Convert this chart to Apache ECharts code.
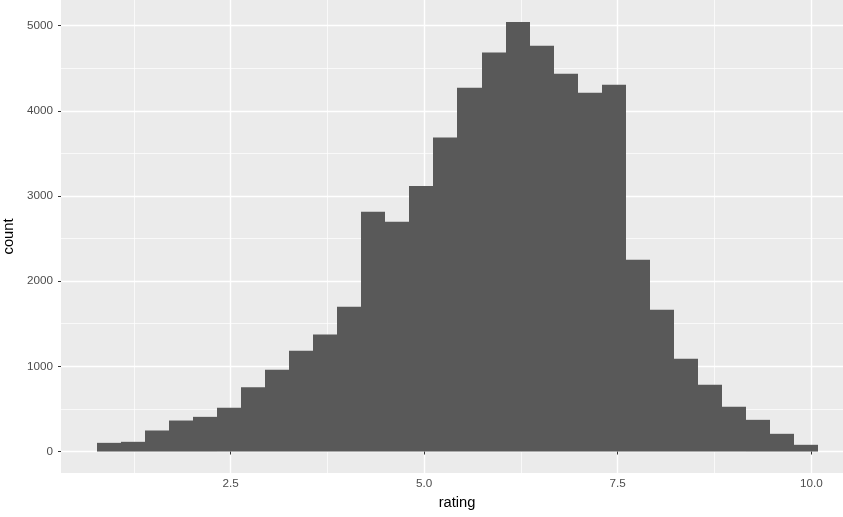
<!DOCTYPE html>
<html>
<head>
<meta charset="utf-8">
<script src="https://cdn.jsdelivr.net/npm/echarts@6/dist/echarts.min.js"></script>
<style>
html,body{margin:0;padding:0;background:#fff;}
#chart{width:843px;height:517px;}
</style>
</head>
<body>
<div id="chart"></div>
<script>
// Histogram of rating: 30 bins
const binStart = 0.7759;          // left edge of first bin
const binWidth = 9 / 29;          // ggplot bins = 30 over range 1..10
const counts = [102, 114, 247, 364, 407, 513, 755, 959, 1182, 1373,
                1698, 2814, 2698, 3116, 3685, 4269, 4683, 5043, 4762, 4433,
                4210, 4304, 2250, 1663, 1088, 783, 525, 372, 208, 79];
const xMajorTicks = [2.5, 5.0, 7.5, 10.0];
const xMinorTicks = [1.25, 3.75, 6.25, 8.75];
const yMajorTicks = [0, 1000, 2000, 3000, 4000, 5000];
const yMinorTicks = [500, 1500, 2500, 3500, 4500];
const xTitle = 'rating';
const yTitle = 'count';

const data = counts.map((c, i) => [binStart + i * binWidth, binStart + (i + 1) * binWidth, c]);

const xMin = 0.3104, xMax = 10.41;
const yMin = -252, yMax = 5300;
const font = 'Liberation Sans';

const chart = echarts.init(document.getElementById('chart'), null, {renderer: 'canvas'});
chart.setOption({
  animation: false,
  grid: {left: 61, right: 0, top: 0, bottom: 44, show: true, backgroundColor: '#EBEBEB', borderWidth: 0,
         containLabel: false, outerBoundsMode: 'none'},
  xAxis: [{
    type: 'value', min: xMin, max: xMax, position: 'bottom',
    axisLine: {show: false},
    axisTick: {show: true, length: 3, customValues: xMajorTicks, lineStyle: {color: '#333333', width: 1}},
    axisLabel: {customValues: xMajorTicks, formatter: v => v.toFixed(1), color: '#4D4D4D', fontSize: 11.7, fontFamily: font, margin: 5},
    splitLine: {show: true, lineStyle: {color: '#FFFFFF', width: 1.4}},
    name: xTitle, nameLocation: 'middle', nameGap: 22,
    nameTextStyle: {color: '#000000', fontSize: 14.7, fontFamily: font, padding: [0, 0, 0, 10]}
  }, {
    type: 'value', min: xMin, max: xMax, position: 'top',
    axisLine: {show: false}, axisLabel: {show: false},
    axisTick: {show: false, customValues: xMinorTicks},
    splitLine: {show: true, lineStyle: {color: '#FFFFFF', width: 0.7}}
  }],
  yAxis: [{
    type: 'value', min: yMin, max: yMax, position: 'left',
    axisLine: {show: false},
    axisTick: {show: true, length: 3, customValues: yMajorTicks, lineStyle: {color: '#333333', width: 1}},
    axisLabel: {customValues: yMajorTicks, formatter: v => String(v), color: '#4D4D4D', fontSize: 11.7, fontFamily: font, margin: 8},
    splitLine: {show: true, lineStyle: {color: '#FFFFFF', width: 1.4}},
    name: yTitle, nameLocation: 'middle', nameGap: 36, nameRotate: 90,
    nameTextStyle: {color: '#000000', fontSize: 14.7, fontFamily: font}
  }, {
    type: 'value', min: yMin, max: yMax, position: 'right',
    axisLine: {show: false}, axisLabel: {show: false},
    axisTick: {show: false, customValues: yMinorTicks},
    splitLine: {show: true, lineStyle: {color: '#FFFFFF', width: 0.7}}
  }],
  series: [{
    type: 'custom',
    xAxisIndex: 0, yAxisIndex: 0,
    data: data,
    encode: {x: [0, 1], y: 2},
    renderItem: function (params, api) {
      const p0 = api.coord([api.value(0), api.value(2)]);
      const p1 = api.coord([api.value(1), 0]);
      const x0 = Math.round(p0[0]), x1 = Math.round(p1[0]);
      return {
        type: 'rect',
        shape: {x: x0, y: p0[1], width: x1 - x0, height: p1[1] - p0[1]},
        style: {fill: '#595959', stroke: null, lineWidth: 0}
      };
    }
  }]
});
</script>
</body>
</html>
